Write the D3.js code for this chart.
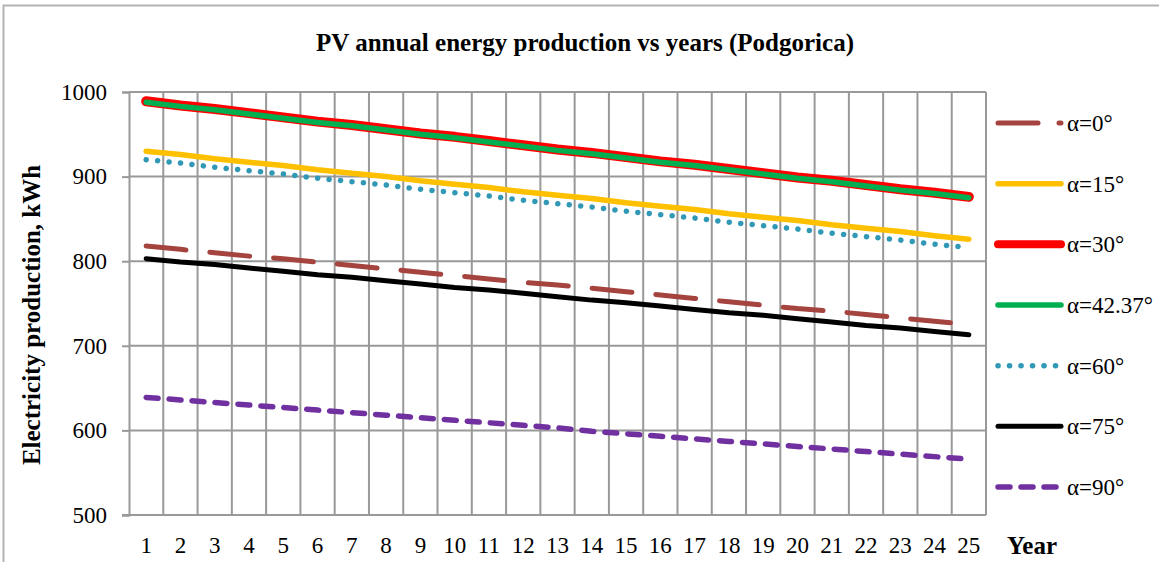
<!DOCTYPE html>
<html>
<head>
<meta charset="utf-8">
<script src="https://cdn.jsdelivr.net/npm/d3@7"></script>
<style>
  body { margin: 0; background: #fff; }
  text { font-family: "Liberation Serif", "Times New Roman", serif; }
</style>
</head>
<body>
<div id="chart"></div>
<script>
// data
var years = d3.range(1, 26);
var yTicks = [500, 600, 700, 800, 900, 1000];
var seriesNames = ["α=0°", "α=15°", "α=30°", "α=42.37°", "α=60°", "α=75°", "α=90°"];

var a0  = [818, 814, 810, 806, 803, 799, 795, 791, 787, 783, 779, 775, 772, 768, 764, 760, 756, 752, 748, 744, 741, 737, 733, 729, 725];
var a15 = [930, 926, 921, 917, 913, 908, 904, 900, 895, 891, 887, 882, 878, 874, 869, 865, 861, 856, 852, 848, 843, 839, 835, 830, 826];
var a30 = [989, 984, 980, 975, 970, 965, 961, 956, 951, 947, 942, 937, 932, 928, 923, 918, 914, 909, 904, 899, 895, 890, 885, 881, 876];
var a42 = [988, 983, 979, 974, 969, 964, 960, 955, 950, 946, 941, 936, 931, 927, 922, 917, 913, 908, 903, 898, 894, 889, 884, 880, 875];
var a60 = [920, 916, 911, 907, 903, 898, 894, 890, 885, 881, 877, 872, 868, 864, 859, 855, 851, 846, 842, 838, 833, 829, 825, 820, 816];
var a75 = [803, 799, 796, 792, 788, 784, 781, 777, 773, 769, 766, 762, 758, 754, 751, 747, 743, 739, 736, 732, 728, 724, 721, 717, 713];
var a90 = [639, 636, 633, 630, 627, 624, 621, 618, 615, 612, 609, 606, 603, 599, 596, 593, 590, 587, 584, 581, 578, 575, 572, 569, 566];

var seriesValues = [a0, a15, a30, a42, a60, a75, a90];

// styles for each series
var styles = [
  {color: "#a5433f", width: 5,   dash: "40 24", legendDash: "40 21"},
  {color: "#ffc000", width: 5.5, dash: null},
  {color: "#ff0000", width: 10,  dash: null},
  {color: "#00b050", width: 5.5, dash: null},
  {color: "#3199b6", width: 5.5, dash: "0.1 11.4"},
  {color: "#000000", width: 5,   dash: null},
  {color: "#7030a0", width: 5.5, dash: "12 11"}
];

var W = 1159, H = 562;
var svg = d3.select("#chart")
  .append("svg")
    .attr("width", W)
    .attr("height", H);

// outer frame (top and left edges visible)
svg.append("path")
  .attr("d", "M3.5," + H + "V5.5H" + W)
  .attr("fill", "none")
  .attr("stroke", "#b3b3b3")
  .attr("stroke-width", 2);

// title
svg.append("text")
  .attr("x", 585)
  .attr("y", 51)
  .attr("text-anchor", "middle")
  .attr("font-weight", "bold")
  .attr("font-size", 25)
  .text("PV annual energy production vs years (Podgorica)");

// scales
var x = d3.scaleBand()
  .domain(years)
  .range([129, 986])
  .padding(0);

var y = d3.scaleLinear()
  .domain([500, 1000])
  .range([515, 92]);

var gridColor = "#999";

// horizontal gridlines
svg.append("g")
  .selectAll("line")
  .data(yTicks.slice(1))
  .join("line")
    .attr("x1", 129)
    .attr("x2", 986)
    .attr("y1", d => y(d))
    .attr("y2", d => y(d))
    .attr("stroke", gridColor)
    .attr("stroke-width", 2);

// vertical gridlines at category boundaries
svg.append("g")
  .selectAll("line")
  .data(years)
  .join("line")
    .attr("x1", d => x(d) + x.bandwidth())
    .attr("x2", d => x(d) + x.bandwidth())
    .attr("y1", y(1000))
    .attr("y2", y(500))
    .attr("stroke", gridColor)
    .attr("stroke-width", 2);

// Y axis
var yAxis = svg.append("g")
  .attr("transform", "translate(129,0)")
  .call(d3.axisLeft(y).tickValues(yTicks).tickSize(7).tickPadding(15).tickFormat(d3.format("d")));
yAxis.select(".domain").attr("stroke", gridColor).attr("stroke-width", 2);
yAxis.selectAll(".tick line").attr("stroke", gridColor).attr("stroke-width", 2);
yAxis.selectAll(".tick text")
  .attr("font-size", 23)
  .attr("fill", "#000");

// X axis
var xAxis = svg.append("g")
  .attr("transform", "translate(0," + y(500) + ")")
  .call(d3.axisBottom(x).tickSize(0).tickPadding(22));
xAxis.select(".domain").remove();
xAxis.selectAll(".tick text")
  .attr("font-size", 23)
  .attr("fill", "#000");
svg.append("line")
  .attr("x1", 122).attr("x2", 986)
  .attr("y1", y(500)).attr("y2", y(500))
  .attr("stroke", gridColor)
  .attr("stroke-width", 2);

// axis titles
svg.append("text")
  .attr("transform", "translate(40,315) rotate(-90)")
  .attr("text-anchor", "middle")
  .attr("font-weight", "bold")
  .attr("font-size", 25)
  .text("Electricity production, kWh");

svg.append("text")
  .attr("x", 1007)
  .attr("y", 554)
  .attr("font-weight", "bold")
  .attr("font-size", 25)
  .text("Year");

// lines
var line = d3.line()
  .x((d, i) => x(years[i]) + x.bandwidth() / 2)
  .y(d => y(d));

svg.append("g")
  .selectAll("path")
  .data(seriesValues)
  .join("path")
    .attr("d", d => line(d))
    .attr("fill", "none")
    .attr("stroke", (d, i) => styles[i].color)
    .attr("stroke-width", (d, i) => styles[i].width)
    .attr("stroke-dasharray", (d, i) => styles[i].dash)
    .attr("stroke-linecap", "round")
    .attr("stroke-linejoin", "round");

// legend
var legendY = d3.scalePoint()
  .domain(seriesNames)
  .range([123, 487]);

var legend = svg.append("g")
  .selectAll("g")
  .data(seriesNames)
  .join("g")
    .attr("transform", d => "translate(0," + legendY(d) + ")");

legend.append("line")
  .attr("x1", 998)
  .attr("x2", 1061)
  .attr("stroke", (d, i) => styles[i].color)
  .attr("stroke-width", (d, i) => i == 2 ? 8 : styles[i].width)
  .attr("stroke-dasharray", (d, i) => styles[i].legendDash || styles[i].dash)
  .attr("stroke-linecap", "round");

legend.append("text")
  .attr("x", 1067)
  .attr("y", 8)
  .attr("font-size", 23)
  .text(d => d);
</script>
</body>
</html>
